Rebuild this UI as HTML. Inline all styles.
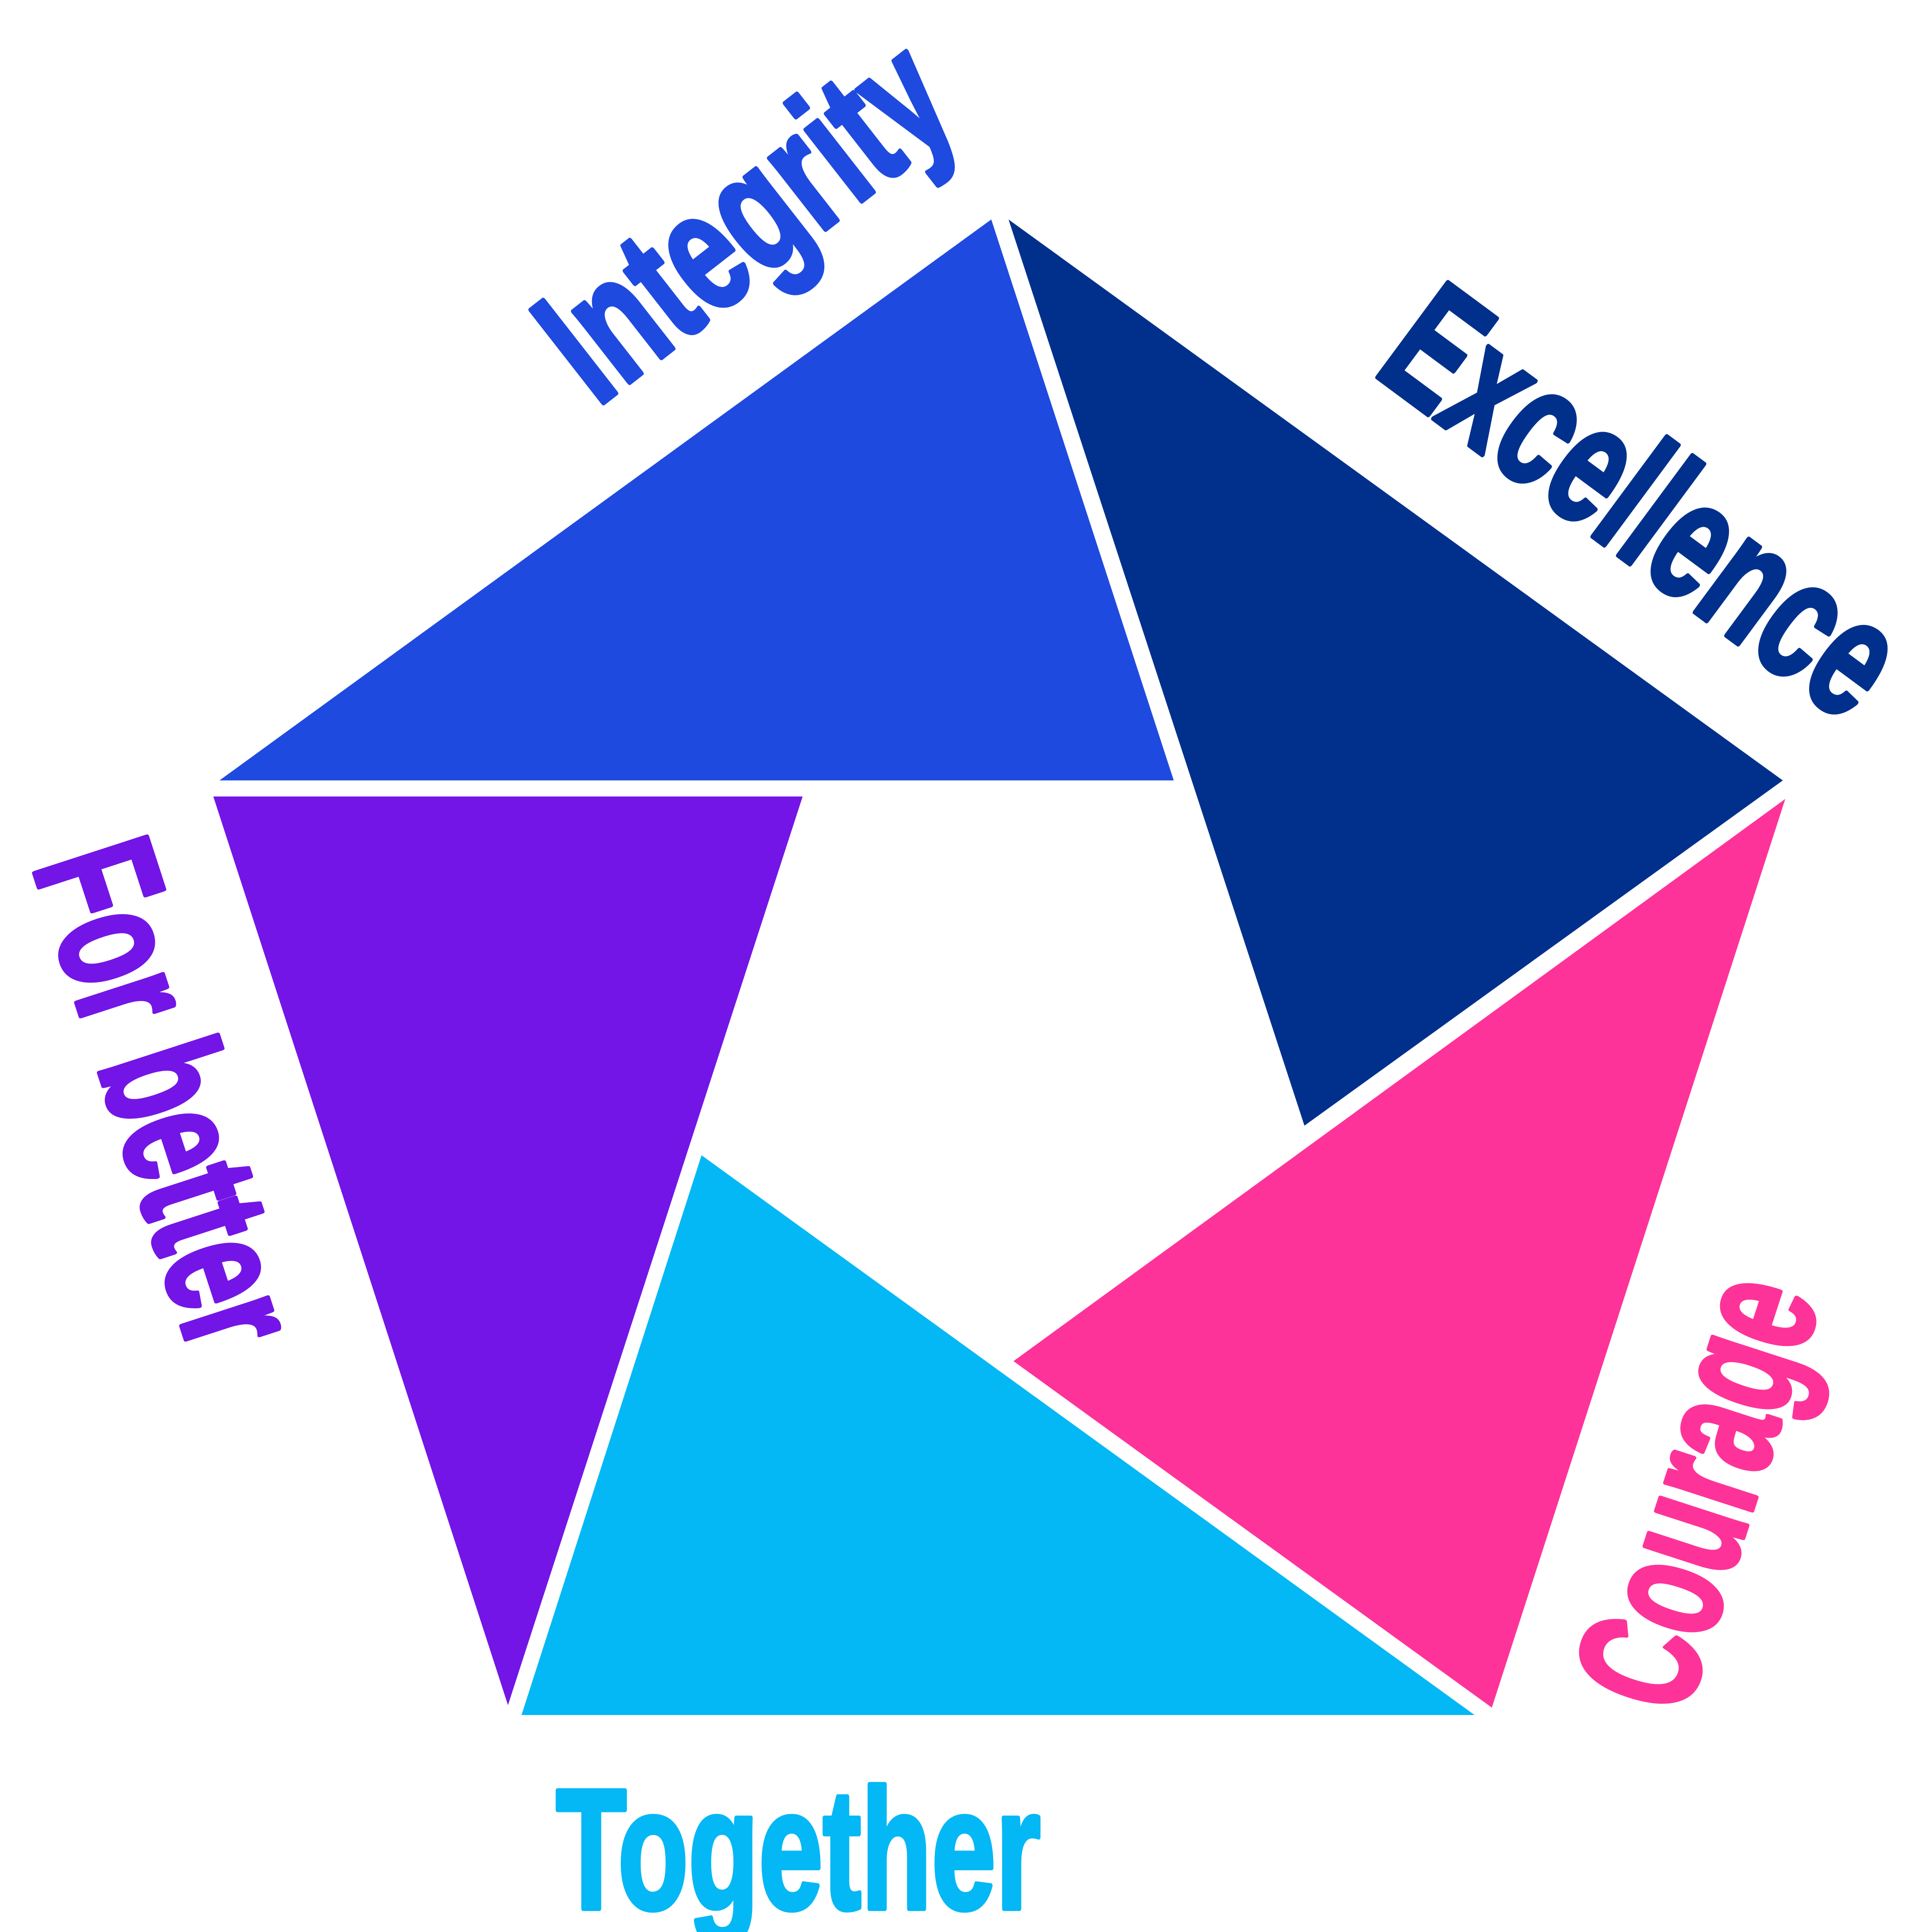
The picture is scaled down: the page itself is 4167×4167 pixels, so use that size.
<!DOCTYPE html>
<html><head><meta charset="utf-8"><style>html,body{margin:0;padding:0;background:#fff}svg{display:block}</style></head>
<body>
<svg width="4167" height="4167" viewBox="0 0 1567 1567" xmlns="http://www.w3.org/2000/svg">
<polygon points="178,633 804,178 952,633" fill="#1f4ae0"/>
<polygon points="818,178 1446,633 1058,913" fill="#01308c"/>
<polygon points="1448,648 1210,1385 822,1104" fill="#fe3399"/>
<polygon points="569,937 1196,1391 423,1391" fill="#03b8f4"/>
<polygon points="173,646 651,646 412,1383" fill="#7315e6"/>
<g font-family="'Liberation Sans Narrow','Liberation Sans',sans-serif" font-weight="bold" font-size="139" stroke-width="4" stroke-linejoin="round">
<text x="451" y="1548" fill="#03b8f4" stroke="#03b8f4" textLength="393" lengthAdjust="spacingAndGlyphs">Together</text>
<text transform="translate(484,331) rotate(-38)" fill="#1f4ae0" stroke="#1f4ae0" textLength="377" lengthAdjust="spacingAndGlyphs">Integrity</text>
<text transform="translate(1112,302) rotate(36.5)" fill="#01308c" stroke="#01308c" textLength="480" lengthAdjust="spacingAndGlyphs">Excellence</text>
<text transform="translate(1366,1394) rotate(-72)" fill="#fe3399" stroke="#fe3399" textLength="357" lengthAdjust="spacingAndGlyphs">Courage</text>
<text transform="translate(26,702) rotate(72)" fill="#7315e6" stroke="#7315e6" textLength="421" lengthAdjust="spacingAndGlyphs">For better</text>
</g>
</svg>
</body></html>
